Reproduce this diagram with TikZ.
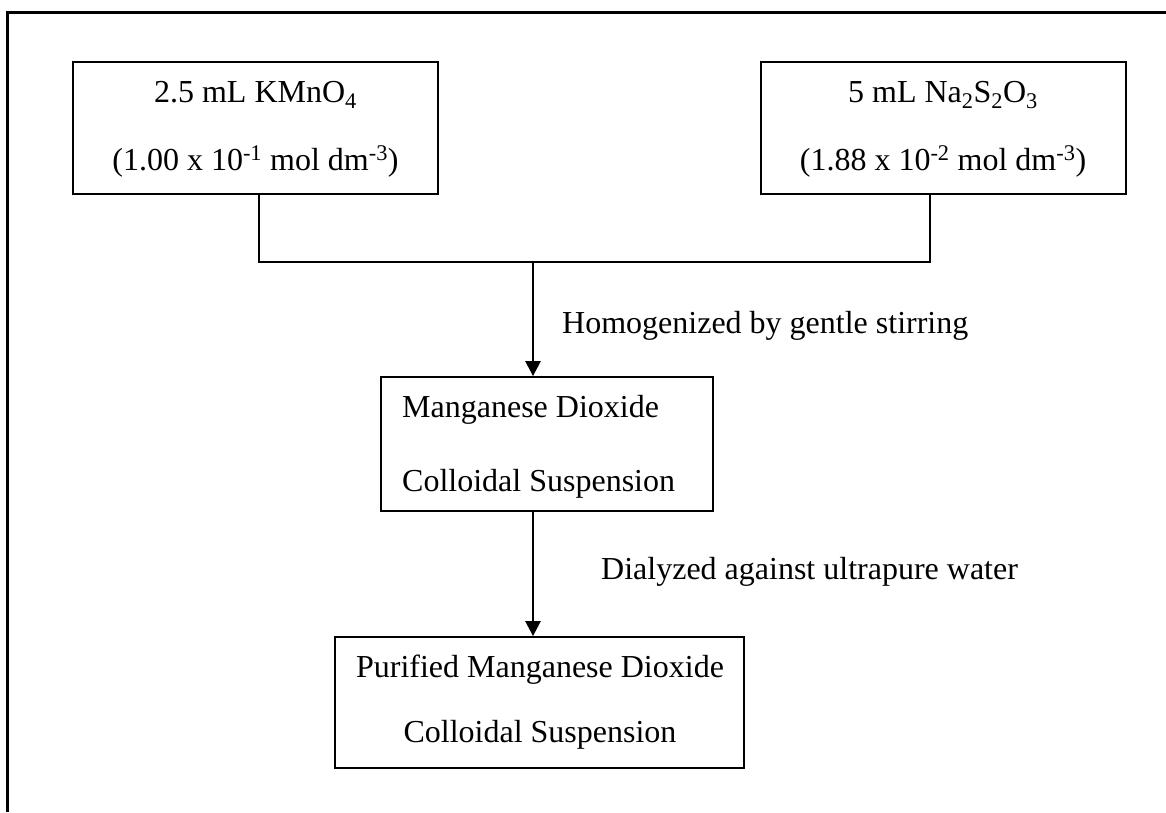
\documentclass[tikz,border=0pt]{standalone}
\usepackage{fontspec}
\setmainfont{Liberation Serif}
\usetikzlibrary{arrows.meta}
\begin{document}
\begin{tikzpicture}[x=1pt,y=-1pt,
  frame/.style={line width=3pt},
  box/.style={draw,line width=1.8pt,inner sep=0pt},
  txt/.style={font=\fontsize{32}{38}\selectfont,inner sep=0pt,anchor=base},
  ltxt/.style={txt,anchor=base west},
  conn/.style={line width=1.5pt},
  arr/.style={line width=2.5pt,-{Triangle[width=15pt,length=15pt]}}]
\useasboundingbox (0,0) rectangle (1166,812);
\fill[white] (0,0) rectangle (1166,812);
\draw[frame] (7,812) -- (7,12) -- (1166,12);
% boxes
\node[box,minimum width=365pt,minimum height=132pt] (b1) at (255.5,128) {};
\node[box,minimum width=365pt,minimum height=132pt] (b2) at (943.5,128) {};
\node[box,minimum width=332pt,minimum height=134pt] (b3) at (547,444) {};
\node[box,minimum width=409pt,minimum height=131pt] (b4) at (539.5,702.5) {};
% texts
\node[txt] (b1a) at (255.5,102) {2.5 mL KMnO\textsubscript{4}};
\node[txt] (b1b) at (255.5,170) {(1.00 x 10\textsuperscript{-1} mol dm\textsuperscript{-3})};
\node[txt] (b2a) at (943,102) {5 mL Na\textsubscript{2}S\textsubscript{2}O\textsubscript{3}};
\node[txt] (b2b) at (943,170) {(1.88 x 10\textsuperscript{-2} mol dm\textsuperscript{-3})};
\node[ltxt] (b3a) at (402,417) {Manganese Dioxide};
\node[ltxt] (b3b) at (402,491) {Colloidal Suspension};
\node[txt] (b4a) at (540,677) {Purified Manganese Dioxide};
\node[txt] (b4b) at (540,742) {Colloidal Suspension};
\node[ltxt] (l1) at (562,333) {Homogenized by gentle stirring};
\node[ltxt] (l2) at (601,579) {Dialyzed against ultrapure water};
% connectors
\coordinate (j1) at (259,262);
\coordinate (j2) at (930,262);
\coordinate (m) at (533,262);
\draw[conn] (b1.south -| j1) -- (j1) -- (j2) -- (b2.south -| j2);
\draw[arr] (m) -- (m |- b3.north);
\draw[arr] (m |- b3.south) -- (m |- b4.north);
\end{tikzpicture}
\end{document}
